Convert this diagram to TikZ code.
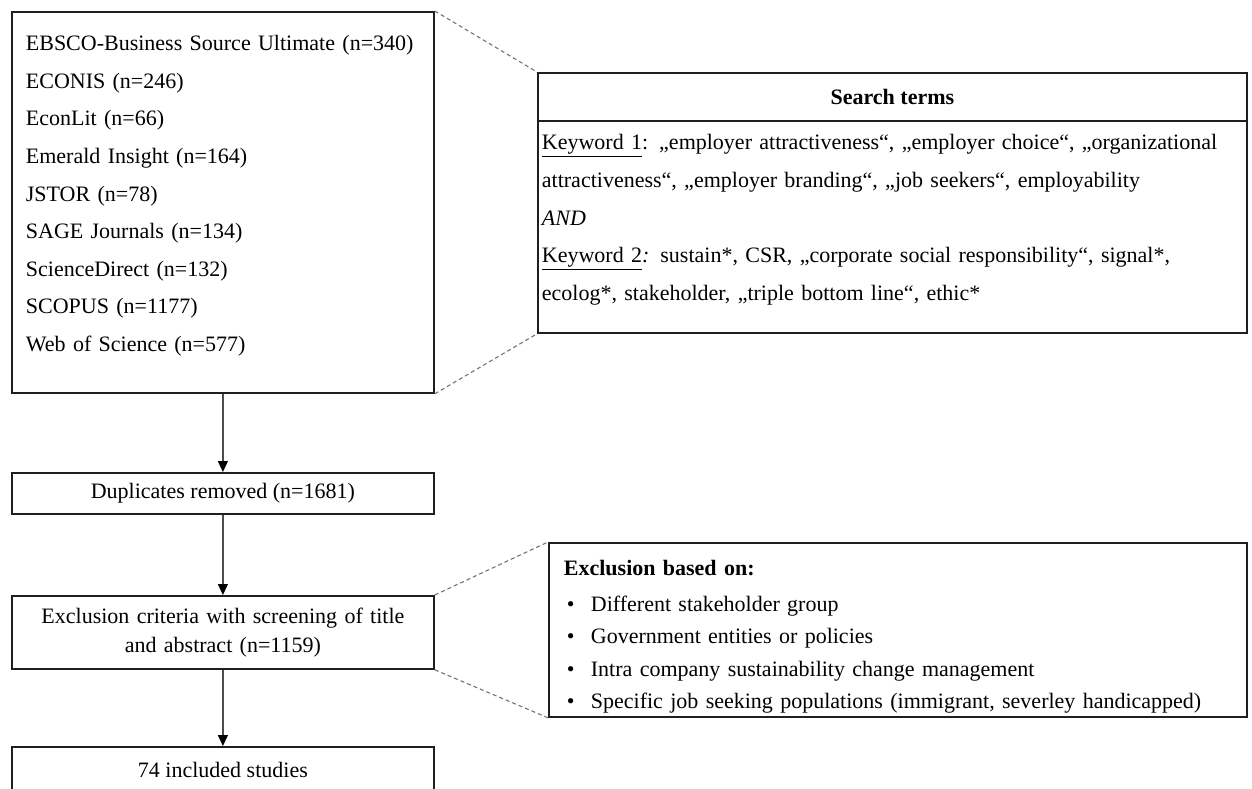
\documentclass[tikz,border=0pt]{standalone}
\usepackage{fontspec}
\setmainfont{Liberation Serif}
\usetikzlibrary{arrows.meta}
\begin{document}
\begin{tikzpicture}[x=1pt,y=-1pt,
  box/.style={draw=black!88, line width=1.8pt, rectangle, anchor=north west, inner ysep=0pt,
    font=\fontsize{22}{37.6}\selectfont},
  flow/.style={draw=black!70, line width=1.2pt, -{Triangle[width=10pt,length=11pt,color=black]}},
  zoomline/.style={draw=black!55, line width=1.1pt, dash pattern=on 4pt off 3pt},
]
\clip (0,0) rectangle (1252,789);
\fill[white] (0,0) rectangle (1252,789);

% databases
\node[box, minimum width=422pt, minimum height=381pt, text width=394pt, inner xsep=14pt, align=left] (db) at (11,11)
{EBSCO-Business Source Ultimate (n=340)\\
ECONIS (n=246)\\
EconLit (n=66)\\
Emerald Insight (n=164)\\
JSTOR (n=78)\\
SAGE Journals (n=134)\\
ScienceDirect (n=132)\\
SCOPUS (n=1177)\\
Web of Science (n=577)\rule[-18pt]{0pt}{0pt}};

% duplicates
\node[box, minimum width=422pt, minimum height=41pt, inner xsep=0pt] (dup) at (11,472) {Duplicates removed (n=1681)};

% exclusion criteria
\node[box, minimum width=422pt, minimum height=73pt, text width=414pt, inner xsep=4pt, align=center,
  font=\fontsize{22}{29}\selectfont] (crit) at (11,595)
{Exclusion criteria with screening of title\\ and abstract (n=1159)};

% included
\node[box, minimum width=422pt, minimum height=46pt, inner xsep=0pt] (incl) at (11,746) {74 included studies};

% search terms
\node[box, minimum width=709pt, minimum height=48pt, inner xsep=0pt] (shead) at (537,72) {\bfseries Search terms};
\node[box, minimum width=709pt, minimum height=212pt, text width=701pt, inner xsep=4pt, align=left] (sbody) at (537,120)
{\underline{Keyword 1}: „employer attractiveness“, „employer choice“, „organizational\\
attractiveness“, „employer branding“, „job seekers“, employability\\
\textit{AND}\\
\underline{Keyword 2}\textit{:} sustain*, CSR, „corporate social responsibility“, signal*,\\
ecolog*, stakeholder, „triple bottom line“, ethic*\rule[-19pt]{0pt}{0pt}};

% exclusion reasons
\node[box, minimum width=698pt, minimum height=174pt, text width=668pt, inner xsep=15pt, align=left,
  font=\fontsize{22}{32.3}\selectfont] (excl) at (548,542)
{\rule{0pt}{29pt}\textbf{Exclusion based on:}\\[3.7pt]
\hspace*{3pt}\makebox[24pt][l]{\textbullet}Different stakeholder group\\
\hspace*{3pt}\makebox[24pt][l]{\textbullet}Government entities or policies\\
\hspace*{3pt}\makebox[24pt][l]{\textbullet}Intra company sustainability change management\\
\hspace*{3pt}\makebox[24pt][l]{\textbullet}Specific job seeking populations (immigrant, severley handicapped)};

% flow arrows
\draw[flow] (db.south) -- (dup.north);
\draw[flow] (dup.south) -- (crit.north);
\draw[flow] (crit.south) -- (incl.north);

% dashed call-out lines
\draw[zoomline] (db.north east) -- (shead.north west);
\draw[zoomline] (db.south east) -- (sbody.south west);
\draw[zoomline] (crit.north east) -- (excl.north west);
\draw[zoomline] (crit.south east) -- (excl.south west);
\end{tikzpicture}
\end{document}
